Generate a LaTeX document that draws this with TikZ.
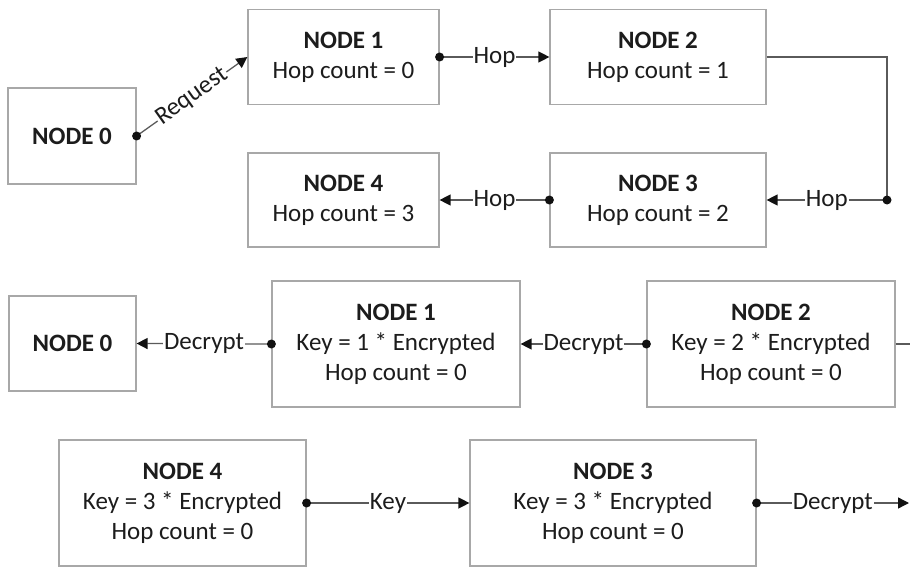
\documentclass[tikz,border=0pt]{standalone}
\usepackage{fontspec}
\setmainfont{Carlito}
\usetikzlibrary{arrows.meta}
\definecolor{boxc}{HTML}{A8A8A8}
\definecolor{linec}{HTML}{5A5A5A}
\definecolor{tipc}{HTML}{111111}
\definecolor{txt}{HTML}{1C1C1C}
\begin{document}
\begin{tikzpicture}[x=1pt,y=-1pt,
  box/.style={draw=boxc, line width=1.2pt, fill=white, align=center, inner sep=0pt,
    font=\fontsize{25}{30}\selectfont, text=txt},
  conn/.style={draw=linec, line width=1.3pt, -{Triangle[length=11pt,width=11pt,color=tipc]}},
  plainline/.style={draw=linec, line width=1.3pt},
  lbl/.style={fill=white, inner xsep=1pt, inner ysep=0pt,
    font=\fontsize{25}{30}\selectfont, text=txt},
  dotc/.style={fill=tipc},
]
\useasboundingbox (0,0) rectangle (910,567);

% request phase
\node[box, minimum width=128pt, minimum height=96pt] (t0) at (72,136) {\textbf{NODE 0}};
\node[box, minimum width=191pt, minimum height=95pt] (t1) at (343.5,57) {\textbf{NODE 1}\\Hop count = 0};
\node[box, minimum width=216pt, minimum height=95pt] (t2) at (658,57) {\textbf{NODE 2}\\Hop count = 1};
\node[box, minimum width=216pt, minimum height=94pt] (t3) at (658,200) {\textbf{NODE 3}\\Hop count = 2};
\node[box, minimum width=191pt, minimum height=94pt] (t4) at (343.5,200) {\textbf{NODE 4}\\Hop count = 3};
\coordinate (c1) at (887,200);

\draw[conn] (t0.east) -- node[lbl, sloped] {Request} (t1.west);
\draw[conn] (t1.east) -- node[lbl] {Hop} (t2.west);
\draw[plainline] (t2.east) -| (c1);
\draw[conn] (c1) -- node[lbl] {Hop} (t3.east);
\draw[conn] (t3.west) -- node[lbl] {Hop} (t4.east);

% decryption phase
\node[box, minimum width=127pt, minimum height=95pt] (b0) at (72.5,343.5) {\textbf{NODE 0}};
\node[box, minimum width=248pt, minimum height=126pt] (b1) at (396,344) {\textbf{NODE 1}\\Key = 1 * Encrypted\\Hop count = 0};
\node[box, minimum width=248pt, minimum height=126pt] (b2) at (771,344) {\textbf{NODE 2}\\Key = 2 * Encrypted\\Hop count = 0};
\node[box, minimum width=247pt, minimum height=126pt] (b4) at (182.5,503) {\textbf{NODE 4}\\Key = 3 * Encrypted\\Hop count = 0};
\node[box, minimum width=286pt, minimum height=126pt] (b3) at (613,503) {\textbf{NODE 3}\\Key = 3 * Encrypted\\Hop count = 0};
\coordinate (r1) at (910,344);
\coordinate (r2) at (909,503);

\draw[conn] (b1.west) -- node[lbl] {Decrypt} (b0.east);
\draw[conn] (b2.west) -- node[lbl] {Decrypt} (b1.east);
\draw[plainline] (b2.east) -- (r1);
\draw[conn] (b4.east) -- node[lbl] {Key} (b3.west);
\draw[conn] (b3.east) -- node[lbl] {Decrypt} (r2);

% source dots
\foreach \p in {t0.east, t1.east, t3.west, c1, b1.west, b2.west, b4.east, b3.east}
  \fill[dotc] (\p) circle[radius=4.5pt];
\end{tikzpicture}
\end{document}
